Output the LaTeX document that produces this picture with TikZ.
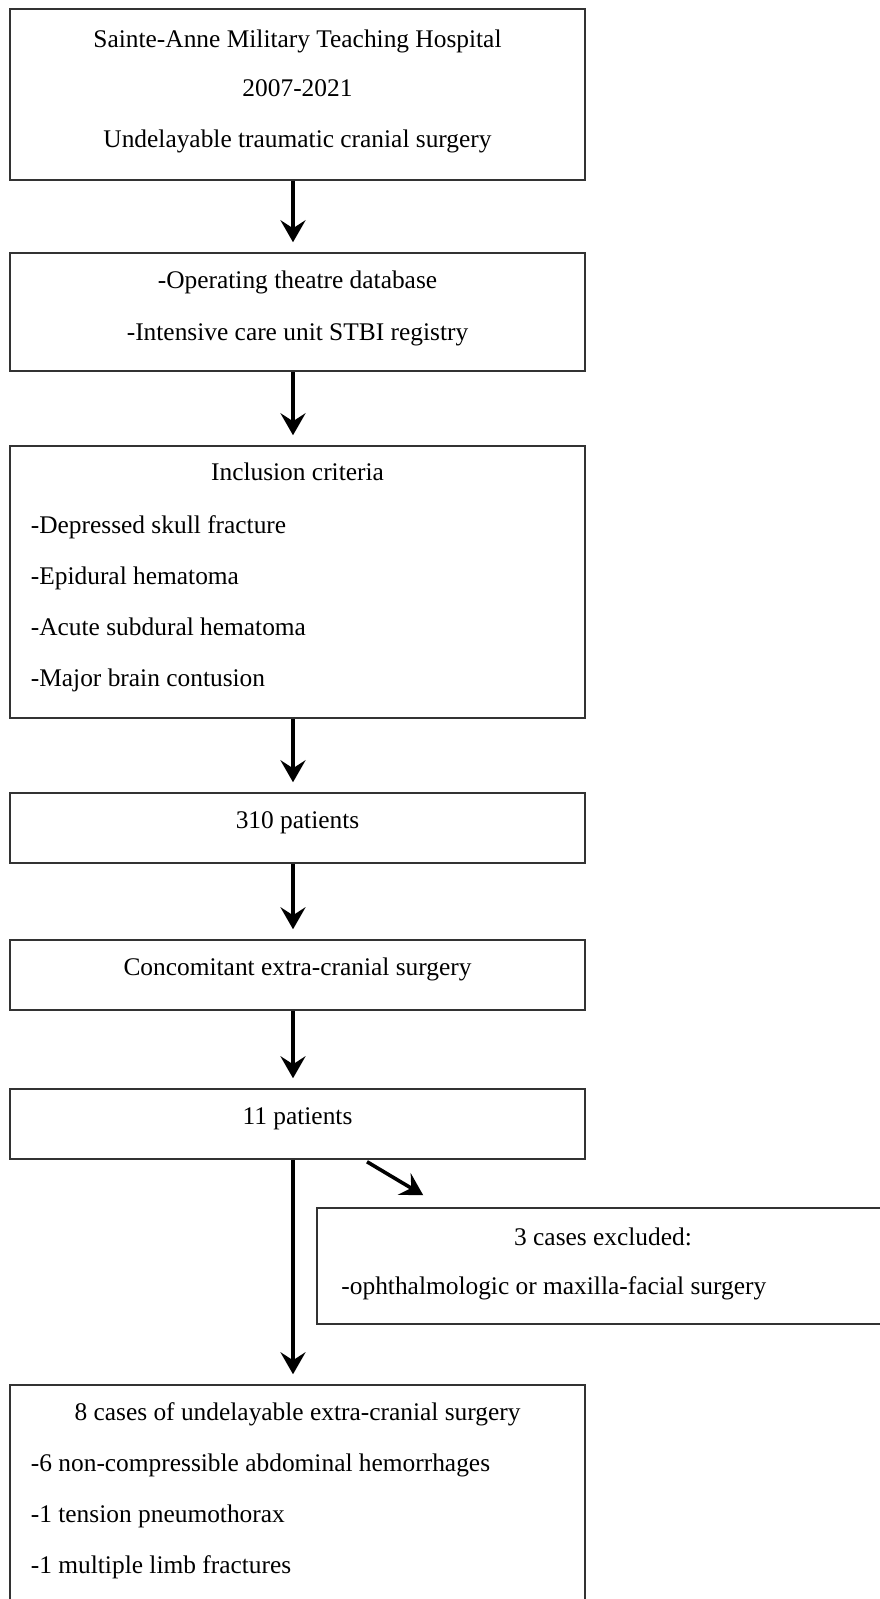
\documentclass[tikz,border=0pt]{standalone}
\usepackage{fontspec}
\setmainfont{Liberation Serif}
\usetikzlibrary{arrows.meta}
\begin{document}
\begin{tikzpicture}[x=0.5pt,y=-0.5pt,font=\fontsize{12.7pt}{15pt}\selectfont,
box/.style={draw=black!80,line width=0.75pt,minimum width=287.5pt,inner sep=0pt},
txt/.style={anchor=base,inner sep=0pt},
ltxt/.style={anchor=base west,inner sep=0pt},
arr/.style={line width=1.8pt,-{Stealth[length=11pt,width=12.5pt,inset=4pt]},shorten >=5pt}]
\useasboundingbox (0,0) rectangle (879,1599);
\node[box,minimum height=85.5pt] (hosp) at (297.5,94.5) {};
\node[box,minimum height=59pt] (data) at (297.5,312) {};
\node[box,minimum height=136pt] (incl) at (297.5,582) {};
\node[box,minimum height=35pt] (pat310) at (297.5,828) {};
\node[box,minimum height=35pt] (conc) at (297.5,975) {};
\node[box,minimum height=35pt] (pat11) at (297.5,1124) {};
\node[box,minimum width=286pt,minimum height=58pt] (excl) at (603,1266) {};
\node[box,minimum height=127.5pt] (cases) at (297.5,1512.5) {};

\node[txt] (hosp-a) at (297.5,48) {Sainte-Anne Military Teaching Hospital};
\node[txt] (hosp-b) at (297.5,97) {2007-2021};
\node[txt] (hosp-c) at (297.5,148) {Undelayable traumatic cranial surgery};
\node[txt] (data-a) at (297.5,289) {-Operating theatre database};
\node[txt] (data-b) at (297.5,341) {-Intensive care unit STBI registry};
\node[txt] (incl-a) at (297.5,480) {Inclusion criteria};
\node[ltxt] (incl-b) at (30.5,533) {-Depressed skull fracture};
\node[ltxt] (incl-c) at (30.5,584) {-Epidural hematoma};
\node[ltxt] (incl-d) at (30.5,635) {-Acute subdural hematoma};
\node[ltxt] (incl-e) at (30.5,686) {-Major brain contusion};
\node[txt] (pat310-a) at (297.5,828) {310 patients};
\node[txt] (conc-a) at (297.5,975) {Concomitant extra-cranial surgery};
\node[txt] (pat11-a) at (297.5,1124) {11 patients};
\node[txt] (excl-a) at (603,1245) {3 cases excluded:};
\node[ltxt] (excl-b) at (341,1294) {-ophthalmologic or maxilla-facial surgery};
\node[txt] (cases-a) at (297.5,1420) {8 cases of undelayable extra-cranial surgery};
\node[ltxt] (cases-b) at (30.5,1471) {-6 non-compressible abdominal hemorrhages};
\node[ltxt] (cases-c) at (30.5,1522) {-1 tension pneumothorax};
\node[ltxt] (cases-d) at (30.5,1573) {-1 multiple limb fractures};

\draw[arr] ([xshift=-2.25pt]hosp.south) -- ([xshift=-2.25pt]data.north);
\draw[arr] ([xshift=-2.25pt]data.south) -- ([xshift=-2.25pt]incl.north);
\draw[arr] ([xshift=-2.25pt]incl.south) -- ([xshift=-2.25pt]pat310.north);
\draw[arr] ([xshift=-2.25pt]pat310.south) -- ([xshift=-2.25pt]conc.north);
\draw[arr] ([xshift=-2.25pt]conc.south) -- ([xshift=-2.25pt]pat11.north);
\draw[arr] ([xshift=-2.25pt]pat11.south) -- ([xshift=-2.25pt]cases.north);
\draw[arr,shorten >=0pt] ([shift={(34.75pt,-1pt)}]pat11.south) -- ([shift={(53.5pt,6pt)}]excl.north west);
\end{tikzpicture}
\end{document}
